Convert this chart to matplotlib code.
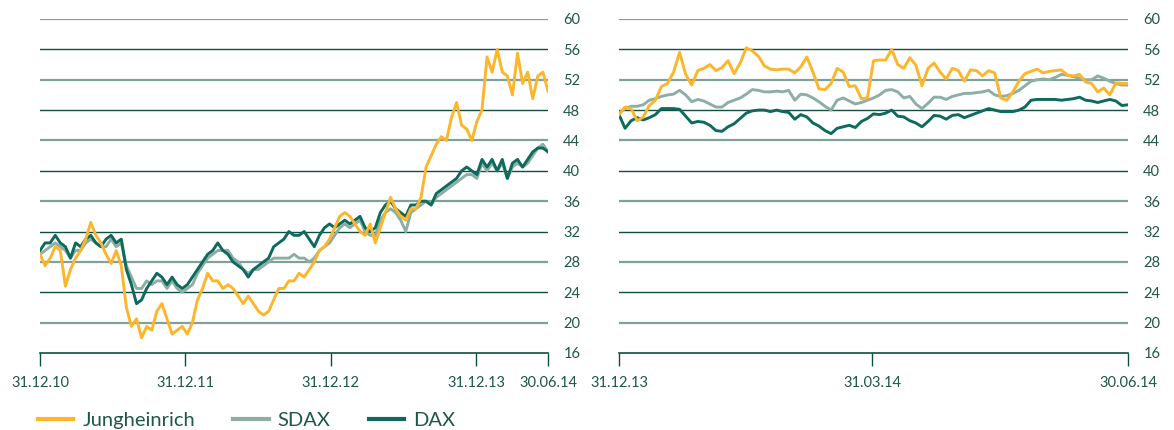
"""Jungheinrich vs SDAX vs DAX share price chart (indexed)"""
import numpy as np
import pandas as pd
import matplotlib
matplotlib.use("Agg")
import matplotlib.pyplot as plt
import matplotlib.dates as mdates

plt.rcParams['font.family'] = ['Lato', 'DejaVu Sans']

# long period, 31.12.10 - 30.06.14 (evenly spaced samples)
long_start, long_end = "2010-12-31", "2014-06-30"
long_jungheinrich = [29.0, 27.5, 28.5, 30.0, 29.5, 24.8, 27.0, 28.5, 29.5, 31.0,
                     33.2, 31.5, 30.5, 29.0, 27.8, 29.5, 27.5, 22.0, 19.5, 20.5,
                     18.0, 19.5, 19.0, 21.5, 22.5, 20.5, 18.5, 19.0, 19.5, 18.5,
                     20.0, 23.0, 24.5, 26.5, 25.5, 25.5, 24.5, 25.0, 24.5, 23.5,
                     22.5, 23.5, 22.5, 21.5, 21.0, 21.5, 23.0, 24.5, 24.5, 25.5,
                     25.5, 26.5, 26.0, 27.0, 28.0, 29.5, 30.0, 31.0, 32.5, 34.0,
                     34.5, 34.0, 33.0, 32.0, 31.5, 33.0, 30.5, 32.5, 34.5, 36.5,
                     35.0, 34.0, 33.5, 35.0, 35.0, 36.5, 40.5, 42.0, 43.5, 44.5,
                     44.0, 47.0, 49.0, 46.0, 45.5, 44.0, 46.5, 48.0, 55.0, 53.0,
                     56.0, 53.0, 52.5, 50.0, 55.5, 51.5, 53.0, 49.5, 52.5, 53.0,
                     50.5]
long_sdax = [29.0, 29.5, 30.0, 30.5, 30.0, 29.5, 28.5, 29.5, 29.5, 30.5,
             31.0, 30.5, 30.0, 30.0, 31.0, 30.0, 30.5, 27.5, 26.0, 24.5,
             24.5, 25.5, 25.0, 25.5, 25.5, 24.5, 25.5, 24.5, 24.0, 24.5,
             25.0, 26.5, 27.5, 28.5, 29.0, 29.5, 29.5, 29.5, 28.5, 28.0,
             27.0, 26.5, 27.0, 27.0, 27.5, 28.0, 28.5, 28.5, 28.5, 28.5,
             29.0, 28.5, 28.5, 28.0, 28.5, 29.5, 30.0, 30.5, 31.5, 32.5,
             33.0, 32.5, 33.0, 33.5, 32.0, 31.5, 31.5, 33.5, 34.5, 35.0,
             34.5, 33.5, 32.0, 34.5, 35.0, 35.5, 36.0, 35.5, 36.5, 37.0,
             37.5, 38.0, 38.5, 39.0, 39.5, 39.5, 39.0, 41.0, 40.0, 41.0,
             40.0, 41.0, 39.0, 40.5, 41.0, 40.5, 41.0, 42.0, 43.0, 43.5,
             42.5]
long_dax = [29.5, 30.5, 30.5, 31.5, 30.5, 30.0, 28.5, 30.5, 30.0, 31.0,
            31.5, 30.5, 30.0, 31.0, 31.5, 30.5, 31.0, 27.0, 25.0, 22.5,
            23.0, 24.5, 25.5, 26.5, 26.0, 25.0, 26.0, 25.0, 24.5, 25.0,
            26.0, 27.0, 28.0, 29.0, 29.5, 30.5, 29.5, 29.0, 28.0, 27.5,
            27.0, 26.0, 27.0, 27.5, 28.0, 28.5, 30.0, 30.5, 31.0, 32.0,
            31.5, 31.5, 32.0, 31.0, 30.0, 31.5, 32.5, 33.0, 32.5, 33.0,
            33.5, 33.0, 33.5, 34.0, 32.5, 32.0, 32.5, 34.5, 35.5, 36.0,
            35.0, 34.5, 34.0, 35.5, 35.5, 36.0, 36.0, 35.5, 37.0, 37.5,
            38.0, 38.5, 39.0, 40.0, 40.5, 40.0, 39.5, 41.5, 40.5, 41.5,
            40.0, 41.5, 39.0, 41.0, 41.5, 40.5, 41.5, 42.5, 43.0, 43.0,
            42.5]
long_ticks = ["2010-12-31", "2011-12-31", "2012-12-31", "2013-12-31", "2014-06-30"]

# short period, 31.12.13 - 30.06.14
short_start, short_end = "2013-12-31", "2014-06-30"
short_jungheinrich = [47.4, 48.4, 48.2, 46.6, 47.1, 48.6, 49.3, 51.1, 51.5, 53.0,
                      55.6, 52.7, 51.3, 53.2, 53.5, 54.0, 53.2, 53.6, 54.5, 52.8,
                      54.2, 56.2, 55.8, 55.1, 53.8, 53.4, 53.3, 53.4, 53.4, 52.9,
                      53.7, 55.0, 53.0, 50.8, 50.7, 51.5, 53.5, 53.0, 51.1, 51.2,
                      49.5, 49.6, 54.5, 54.6, 54.6, 56.0, 54.0, 53.5, 54.9, 53.9,
                      51.2, 53.5, 54.2, 53.0, 52.1, 53.5, 53.2, 51.8, 53.3, 53.2,
                      52.5, 53.2, 52.9, 49.6, 49.3, 50.4, 51.8, 52.8, 53.1, 53.4,
                      52.9, 53.1, 53.2, 53.3, 52.6, 52.5, 52.7, 51.7, 51.5, 50.4,
                      50.9, 50.0, 51.6, 51.5, 51.5]
short_sdax = [47.6, 48.2, 48.5, 48.5, 48.7, 49.3, 49.5, 49.8, 50.0, 50.1,
              50.6, 50.0, 49.1, 49.4, 49.2, 48.8, 48.4, 48.4, 49.0, 49.3,
              49.6, 50.1, 50.7, 50.6, 50.4, 50.4, 50.5, 50.4, 50.6, 49.3,
              50.1, 50.0, 49.6, 49.1, 48.5, 48.0, 49.3, 49.6, 49.2, 48.8,
              49.0, 49.3, 49.6, 50.0, 50.6, 50.7, 50.4, 49.6, 49.8, 48.8,
              48.2, 48.9, 49.7, 49.7, 49.4, 49.8, 50.0, 50.2, 50.2, 50.3,
              50.4, 50.6, 50.0, 49.8, 49.9, 50.2, 50.6, 51.2, 51.8, 52.0,
              52.1, 52.0, 52.3, 52.7, 52.6, 52.4, 52.2, 52.0, 52.0, 52.5,
              52.2, 51.8, 51.5, 51.3, 51.3]
short_dax = [47.4, 45.6, 46.6, 47.0, 46.7, 47.0, 47.4, 48.2, 48.2, 48.2,
             48.1, 47.2, 46.3, 46.5, 46.4, 46.0, 45.3, 45.2, 45.8, 46.2,
             46.9, 47.6, 47.9, 48.0, 48.0, 47.8, 48.0, 47.8, 47.7, 46.8,
             47.4, 47.1, 46.3, 45.9, 45.3, 44.9, 45.6, 45.8, 46.0, 45.7,
             46.5, 46.9, 47.5, 47.4, 47.6, 48.0, 47.2, 47.1, 46.6, 46.3,
             45.8, 46.5, 47.3, 47.2, 46.8, 47.3, 47.4, 47.0, 47.3, 47.6,
             47.9, 48.2, 48.0, 47.8, 47.8, 47.8, 48.0, 48.4, 49.3, 49.4,
             49.4, 49.4, 49.4, 49.3, 49.4, 49.5, 49.7, 49.3, 49.2, 49.0,
             49.2, 49.4, 49.2, 48.6, 48.7]
short_ticks = ["2013-12-31", "2014-03-31", "2014-06-30"]

series_names = ["Jungheinrich", "SDAX", "DAX"]
series_colors = ["#FDB52B", "#8DAEA4", "#0D6A5C"]
text_color = "#1F5749"
grid_dark = "#114D40"
grid_light = "#7FA199"


def sample_dates(start, end, n):
    a = mdates.date2num(pd.Timestamp(start))
    b = mdates.date2num(pd.Timestamp(end))
    return np.linspace(a, b, n)


def draw_panel(ax, start, end, jung, sdax, dax, ticks):
    x = sample_dates(start, end, len(jung))
    lines = {}
    # gridlines: alternating light / dark
    for v in range(20, 61, 4):
        light = (v - 20) % 8 == 0
        ax.axhline(v, color=grid_light if light else grid_dark,
                   lw=1.6 if light else 1.0, zorder=1)
    lines["SDAX"], = ax.plot(x, sdax, color=series_colors[1], lw=2.1, zorder=2)
    lines["DAX"], = ax.plot(x, dax, color=series_colors[2], lw=2.1, zorder=3)
    lines["Jungheinrich"], = ax.plot(x, jung, color=series_colors[0], lw=2.1, zorder=4)

    ax.set_xlim(x[0], x[-1])
    ax.set_ylim(16, 60)
    ax.set_yticks(range(16, 61, 4))
    ax.yaxis.tick_right()
    ax.tick_params(axis='y', length=0, pad=11, labelsize=10.5, colors=text_color)

    tick_pos = [mdates.date2num(pd.Timestamp(t)) for t in ticks]
    ax.set_xticks(tick_pos)
    ax.set_xticklabels([pd.Timestamp(t).strftime("%d.%m.%y") for t in ticks])
    ax.tick_params(axis='x', direction='out', length=9.5, width=1.0,
                   color=grid_dark, pad=7, labelsize=10.5, labelcolor=text_color)
    for s in ["top", "left", "right"]:
        ax.spines[s].set_visible(False)
    ax.spines["bottom"].set_color(grid_dark)
    ax.spines["bottom"].set_linewidth(1.2)
    ax.set_facecolor("none")
    return lines


fig = plt.figure(figsize=(11.74, 4.30), dpi=100)
ax1 = fig.add_axes([40 / 1174, 77 / 430, 508 / 1174, 334 / 430])
ax2 = fig.add_axes([619 / 1174, 77 / 430, 509 / 1174, 334 / 430])

lines = draw_panel(ax1, long_start, long_end, long_jungheinrich, long_sdax, long_dax, long_ticks)
draw_panel(ax2, short_start, short_end, short_jungheinrich, short_sdax, short_dax, short_ticks)

leg = fig.legend([lines[n] for n in series_names], series_names,
                 loc="center left", bbox_to_anchor=(38 / 1174, 10 / 430),
                 ncol=3, frameon=False, fontsize=14.5, handlelength=1.75,
                 handletextpad=0.45, columnspacing=1.9, borderpad=0,
                 borderaxespad=0)
for t in leg.get_texts():
    t.set_color(text_color)
for h in leg.legend_handles:
    h.set_linewidth(3)

fig.savefig("out.png", dpi=100)
